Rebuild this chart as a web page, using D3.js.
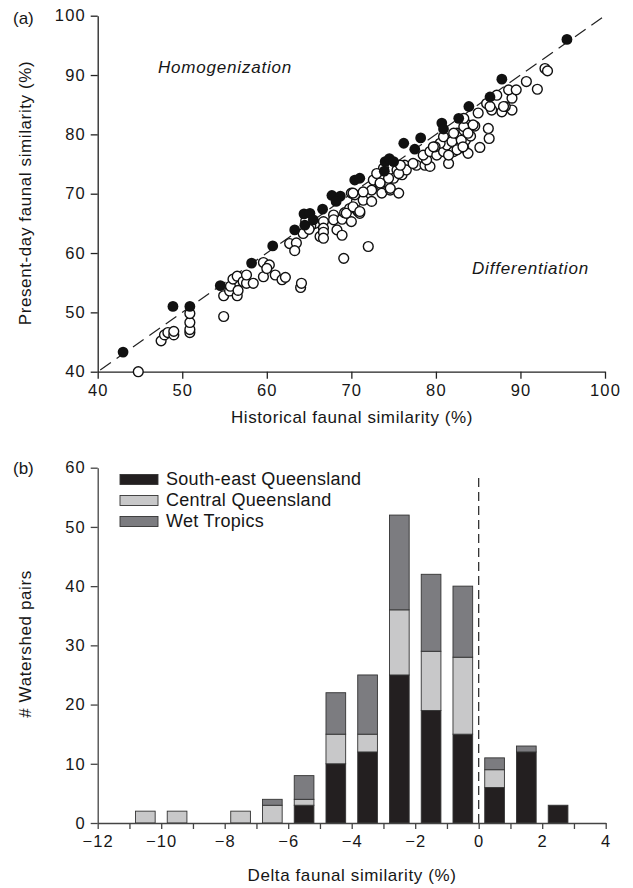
<!DOCTYPE html>
<html>
<head>
<meta charset="utf-8">
<script src="https://cdn.jsdelivr.net/npm/d3@7"></script>
<style>
  body { margin: 0; background: #fff; }
  svg { display: block; }
  text { font-family: "Liberation Sans", Arial, Helvetica, sans-serif; fill: #161616; }
</style>
</head>
<body>
<div id="chart"></div>
<script>
// (a) scatter: [historical, present-day] similarity (%)
var filledPoints = [
  [43, 43.3], [48.9, 51], [50.9, 51], [54.5, 54.5], [58.2, 58.3], [60.7, 61.2],
  [63.3, 63.9], [64.5, 64.7], [64.4, 66.6], [65.1, 66.7], [65.5, 65.6], [66.6, 67.4],
  [67.7, 69.7], [68.7, 69.6], [68.2, 68.7], [70.4, 72.3], [71.0, 72.6], [73.9, 73.8],
  [74.0, 75.4], [74.5, 75.9], [75.0, 75.4], [76.2, 78.5], [77.5, 77.5], [78.2, 79.4],
  [80.7, 81.9], [80.9, 80.9], [82.7, 82.7], [83.9, 84.7], [86.4, 86.3], [87.8, 89.3],
  [95.5, 96]
]
var openPoints = [
  [44.8, 40.0], [47.5, 45.2], [47.9, 46.2], [48.3, 46.6], [49.0, 46.2], [49.0, 46.8],
  [50.9, 46.6], [50.9, 47.1], [50.9, 48.3], [50.9, 49.8], [54.9, 49.3], [54.9, 52.8],
  [55.6, 53.6], [55.7, 54.4], [56.5, 52.8], [56.6, 53.7], [56.0, 55.6], [56.5, 56.1],
  [57.2, 55.2], [57.6, 54.9], [58.4, 54.9], [57.6, 56.3], [59.6, 56.0], [59.6, 58.4],
  [60.3, 58.0], [60.0, 57.4], [61.0, 56.3], [61.8, 55.5], [62.2, 55.9], [64.0, 54.2],
  [64.1, 54.9], [62.7, 61.6], [63.5, 61.7], [63.3, 60.4], [64.3, 63.3], [65.7, 65.0],
  [66.3, 62.8], [66.7, 65.3], [66.7, 64.2], [66.7, 63.5], [66.7, 62.5], [67.9, 66.4],
  [67.9, 65.6], [68.9, 65.7], [68.3, 63.9], [68.9, 63.0], [69.1, 59.1], [69.2, 66.8],
  [70.0, 65.3], [69.8, 67.5], [70.0, 70.1], [70.6, 68.7], [70.8, 67.0], [72.0, 61.1],
  [71.0, 66.7], [69.4, 66.7], [70.2, 67.8], [71.0, 67.0], [71.4, 68.9], [70.4, 69.8],
  [72.4, 68.7], [72.4, 70.6], [72.6, 72.3], [73.4, 71.5], [73.6, 70.1], [74.6, 70.6],
  [75.6, 70.1], [75.0, 72.6], [76.0, 73.2], [75.4, 74.0], [76.3, 74.8], [76.5, 74.0],
  [77.7, 74.8], [78.7, 74.8], [79.3, 74.6], [78.9, 75.7], [78.5, 76.5], [79.3, 77.1],
  [80.1, 76.5], [80.9, 77.1], [81.3, 78.2], [80.5, 78.5], [79.9, 77.9], [80.9, 79.6],
  [81.9, 78.8], [81.5, 75.1], [82.1, 77.1], [82.5, 80.2], [83.3, 80.7], [83.5, 79.0],
  [83.3, 77.7], [83.8, 76.8], [83.8, 81.6], [73.8, 74.3], [73.0, 73.4], [74.4, 72.6],
  [73.4, 71.8], [74.6, 70.9], [71.4, 70.3], [70.2, 70.1], [75.6, 73.4], [77.3, 75.1],
  [75.8, 74.8], [79.7, 77.9], [82.1, 80.2], [83.0, 79.0], [84.1, 79.7], [84.6, 81.4],
  [83.3, 81.3], [83.3, 82.7], [85.0, 83.6], [86.0, 85.2], [86.6, 84.1], [87.8, 83.8],
  [89.0, 84.1], [88.2, 84.7], [87.2, 86.6], [89.0, 86.1], [88.6, 87.5], [89.5, 87.5],
  [92.0, 87.6], [90.7, 88.9], [92.9, 91.1], [93.2, 90.7], [86.2, 81.0], [86.3, 79.3],
  [85.2, 77.8], [83.8, 80.2], [82.5, 77.4], [84.4, 81.6], [83.2, 77.9], [88.0, 84.7],
  [86.4, 84.7], [81.5, 76.5], [65.2, 64.6], [65.0, 64.0], [64.6, 65.4]
]
var scatterTicks = [40, 50, 60, 70, 80, 90, 100]

// (b) stacked histogram, bin centres (%)
var binCenters = [-10.5, -9.5, -7.5, -6.5, -5.5, -4.5, -3.5, -2.5, -1.5, -0.5, 0.5, 1.5, 2.5]
var southEast = [0, 0, 0, 0, 3, 10, 12, 25, 19, 15, 6, 12, 3]
var central   = [2, 2, 2, 3, 1, 5, 3, 11, 10, 13, 3, 0, 0]
var wetTropics = [0, 0, 0, 1, 4, 7, 10, 16, 13, 12, 2, 1, 0]
var regionNames = ['South-east Queensland', 'Central Queensland', 'Wet Tropics']
var regionColors = ['#231f20', '#c8c8c9', '#7c7c80']
var barTicksY = [0, 10, 20, 30, 40, 50, 60]

var svg = d3.select('#chart').append('svg')
  .attr('width', 633).attr('height', 888)

// ---------- panel (a) ----------
var xa = d3.scaleLinear().domain([40, 100]).range([97.7, 605])
var ya = d3.scaleLinear().domain([40, 100]).range([371.7, 15.7])

var ga = svg.append('g')

ga.append('g')
  .attr('transform', 'translate(0,' + ya(40) + ')')
  .call(d3.axisBottom(xa).tickValues(scatterTicks).tickSize(7).tickSizeOuter(0).tickPadding(6))
ga.append('g')
  .attr('transform', 'translate(' + xa(40) + ',0)')
  .call(d3.axisLeft(ya).tickValues(scatterTicks).tickSize(7).tickSizeOuter(0).tickPadding(5))

ga.selectAll('.tick text').style('font-size', '16.5px').style('letter-spacing', '1.1px')
ga.selectAll('.domain, .tick line').attr('stroke', '#222').attr('stroke-width', 1.3)

ga.append('line')
  .attr('x1', xa(40.3)).attr('y1', ya(40.3))
  .attr('x2', xa(100.1)).attr('y2', ya(100.1))
  .attr('stroke', '#222').attr('stroke-width', 1.2)
  .attr('stroke-dasharray', '13,7')

ga.selectAll('circle.open').data(openPoints).enter().append('circle')
  .attr('class', 'open')
  .attr('cx', function (d) { return xa(d[0]) })
  .attr('cy', function (d) { return ya(d[1]) })
  .attr('r', 4.9)
  .attr('fill', '#fff').attr('stroke', '#111').attr('stroke-width', 1.4)

ga.selectAll('circle.filled').data(filledPoints).enter().append('circle')
  .attr('class', 'filled')
  .attr('cx', function (d) { return xa(d[0]) })
  .attr('cy', function (d) { return ya(d[1]) })
  .attr('r', 5.4)
  .attr('fill', '#111')

ga.append('text').attr('x', 13).attr('y', 24).text('(a)')
  .style('font-size', '17px')
ga.append('text').attr('x', 158).attr('y', 73).text('Homogenization')
  .style('font-size', '17px').style('font-style', 'italic').style('letter-spacing', '0.8px')
ga.append('text').attr('x', 472).attr('y', 274).text('Differentiation')
  .style('font-size', '17px').style('font-style', 'italic').style('letter-spacing', '0.8px')
ga.append('text').attr('x', 352).attr('y', 423).attr('text-anchor', 'middle')
  .text('Historical faunal similarity (%)')
  .style('font-size', '17px').style('letter-spacing', '0.6px')
ga.append('text').attr('transform', 'translate(31,193) rotate(-90)')
  .attr('text-anchor', 'middle')
  .text('Present-day faunal similarity (%)')
  .style('font-size', '17px').style('letter-spacing', '0.6px')

// ---------- panel (b) ----------
var xb = d3.scaleLinear().domain([-12, 4]).range([97.7, 605.7])
var yb = d3.scaleLinear().domain([0, 60]).range([823, 467.7])

var gb = svg.append('g')

var stackRows = binCenters.map(function (c, i) {
  return { center: c, seq: southEast[i], cq: central[i], wt: wetTropics[i] }
})
var series = d3.stack().keys(['seq', 'cq', 'wt'])(stackRows)
var halfW = 0.31

gb.selectAll('g.layer').data(series).enter().append('g')
  .attr('class', 'layer')
  .attr('fill', function (d, i) { return regionColors[i] })
  .selectAll('rect').data(function (d) { return d.filter(function (s) { return s[1] > s[0] }) })
  .enter().append('rect')
  .attr('x', function (d) { return xb(d.data.center - halfW) })
  .attr('width', function (d) { return xb(d.data.center + halfW) - xb(d.data.center - halfW) })
  .attr('y', function (d) { return yb(d[1]) })
  .attr('height', function (d) { return yb(d[0]) - yb(d[1]) })
  .attr('stroke', '#333').attr('stroke-width', 0.9)

gb.append('line')
  .attr('x1', xb(0)).attr('x2', xb(0))
  .attr('y1', yb(0)).attr('y2', yb(59))
  .attr('stroke', '#222').attr('stroke-width', 1.2)
  .attr('stroke-dasharray', '9,5')

gb.append('g')
  .attr('transform', 'translate(0,' + yb(0) + ')')
  .call(d3.axisBottom(xb).tickValues(d3.range(-12, 5)).tickSize(6).tickSizeOuter(0).tickPadding(6)
    .tickFormat(function (d) { return d % 2 === 0 ? d3.format('d')(d) : '' }))
gb.append('g')
  .attr('transform', 'translate(' + xb(-12) + ',0)')
  .call(d3.axisLeft(yb).tickValues(barTicksY).tickSize(7).tickSizeOuter(0).tickPadding(5))

gb.selectAll('.tick text').style('font-size', '16.5px').style('letter-spacing', '1.1px')
gb.selectAll('.domain, .tick line').attr('stroke', '#444').attr('stroke-width', 1.3)

var legend = gb.selectAll('g.legend').data(regionNames).enter().append('g')
  .attr('class', 'legend')
  .attr('transform', function (d, i) { return 'translate(120,' + (474.5 + i * 21) + ')' })
legend.append('rect')
  .attr('width', 38).attr('height', 10)
  .attr('fill', function (d, i) { return regionColors[i] })
  .attr('stroke', '#333').attr('stroke-width', 0.9)
legend.append('text')
  .attr('x', 46).attr('y', 10.5)
  .text(function (d) { return d })
  .style('font-size', '18px').style('letter-spacing', '0.3px')

gb.append('text').attr('x', 13).attr('y', 474).text('(b)')
  .style('font-size', '17px')
gb.append('text').attr('x', 352).attr('y', 881).attr('text-anchor', 'middle')
  .text('Delta faunal similarity (%)')
  .style('font-size', '17px').style('letter-spacing', '0.6px')
gb.append('text').attr('transform', 'translate(31,644) rotate(-90)')
  .attr('text-anchor', 'middle')
  .text('# Watershed pairs')
  .style('font-size', '17px').style('letter-spacing', '0.6px')
</script>
</body>
</html>
